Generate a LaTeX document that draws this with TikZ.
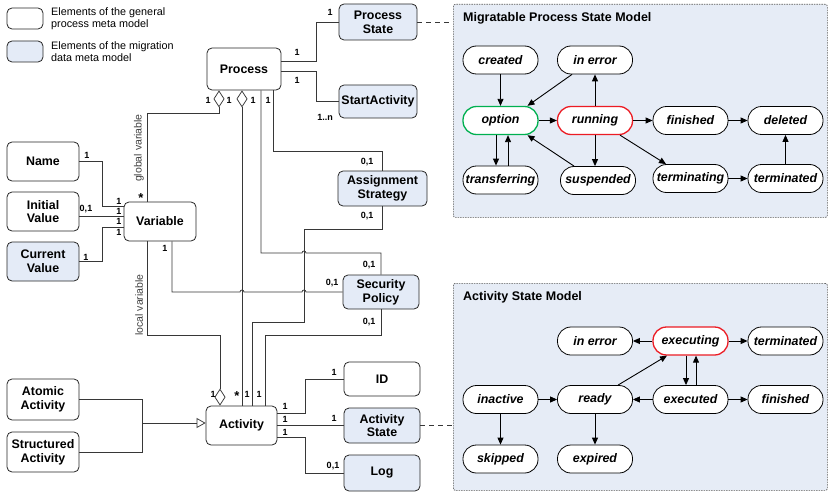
\documentclass[tikz,border=0pt]{standalone}
\usepackage{fontspec}
\setmainfont{Liberation Sans}
\usetikzlibrary{arrows.meta}
\definecolor{bfill}{RGB}{228,235,247}
\definecolor{sfill}{RGB}{230,236,246}
\definecolor{lcol}{RGB}{55,55,55}
\definecolor{gcol}{RGB}{0,176,80}
\definecolor{rcol}{RGB}{236,28,36}
\tikzset{agg/.tip={Diamond[open,length=17pt,width=11pt]}}
\begin{document}
\begin{tikzpicture}[x=1pt,y=-1pt,
  box/.style={draw=black!85,line width=0.8pt,rounded corners=5pt,fill=white,align=center,inner sep=0pt,font=\fontsize{12.4}{13.8}\selectfont\bfseries},
  mbox/.style={box,fill=bfill},
  st/.style={draw=black,line width=0.8pt,rounded corners=13.5pt,fill=white,minimum width=75pt,minimum height=28pt,inner sep=0pt,font=\fontsize{12.4}{13}\selectfont\bfseries\itshape},
  gst/.style={st,draw=gcol,line width=1.3pt},
  rst/.style={st,draw=rcol,line width=1.3pt},
  conn/.style={draw=lcol,line width=0.75pt},
  sarr/.style={draw=black,line width=0.9pt,-{Triangle[length=7pt,width=6pt]}},
  mult/.style={font=\fontsize{9}{9}\selectfont\bfseries,inner sep=0pt},
  star/.style={font=\fontsize{13}{13}\selectfont\bfseries,inner sep=0pt},
  smodel/.style={draw=black!65,dash pattern=on 1.5pt off 1pt,line width=0.7pt,fill=sfill,rounded corners=2pt,anchor=north west,inner sep=0pt},
  ttl/.style={font=\fontsize{12.5}{13}\selectfont\bfseries,anchor=west,inner sep=0pt},
  rlab/.style={font=\fontsize{10.5}{12}\selectfont,text=black!75,rotate=90,inner sep=0pt},
  leg/.style={font=\fontsize{10.8}{12}\selectfont,align=left,anchor=west,inner sep=0pt},
  dsh/.style={conn,dash pattern=on 5pt off 4pt}
]
\useasboundingbox (0,0) rectangle (829,492);

% legend
\node[box,minimum width=36pt,minimum height=21pt] (lg1) at (25,18.5) {};
\node[leg] (lt1) at (51,19) {Elements of the general\\process meta model};
\node[mbox,minimum width=36pt,minimum height=21pt] (lg2) at (25,51.5) {};
\node[leg] (lt2) at (51,52) {Elements of the migration\\data meta model};

% state model frames
\node[smodel,minimum width=374pt,minimum height=213pt] (pmodel) at (453,4) {};
\node[ttl] (pmt) at (463,18) {Migratable Process State Model};
\node[smodel,minimum width=374pt,minimum height=207pt] (amodel) at (453,283) {};
\node[ttl] (amt) at (463,297) {Activity State Model};

% meta model nodes
\node[box,minimum width=74pt,minimum height=42pt] (proc) at (244,69) {Process};
\node[mbox,minimum width=78pt,minimum height=36pt] (ps) at (378,22) {Process\\State};
\node[mbox,minimum width=78pt,minimum height=33pt] (sa) at (378,101.5) {StartActivity};
\node[mbox,minimum width=89pt,minimum height=35pt] (as) at (382.5,188.5) {Assignment\\Strategy};
\node[mbox,minimum width=76pt,minimum height=34pt] (sp) at (381,292) {Security\\Policy};
\node[box,minimum width=72pt,minimum height=39pt] (name) at (43,161.5) {Name};
\node[box,minimum width=72pt,minimum height=39pt] (init) at (43,211.5) {Initial\\Value};
\node[mbox,minimum width=72pt,minimum height=39pt] (cur) at (43,261.5) {Current\\Value};
\node[box,minimum width=72pt,minimum height=39pt] (var) at (160,221.5) {Variable};
\node[box,minimum width=72pt,minimum height=41pt] (atom) at (43,399.5) {Atomic\\Activity};
\node[box,minimum width=72pt,minimum height=40pt] (struct) at (43,452) {Structured\\Activity};
\node[box,minimum width=71pt,minimum height=39pt] (act) at (241.5,425.5) {Activity};
\node[box,minimum width=76pt,minimum height=34pt] (id) at (382,379) {ID};
\node[mbox,minimum width=76pt,minimum height=35pt] (ast) at (382,425.5) {Activity\\State};
\node[mbox,minimum width=76pt,minimum height=36pt] (log) at (382,473) {Log};

% connectors
\draw[conn] ([yshift=8pt]proc.east) -- (316,61) |- (ps.west);
\draw[conn] ([yshift=-2pt]proc.east) -- (316,71) |- (sa.west);
\draw[conn,agg-] ([xshift=-25pt]proc.south) -- (219,113) -| ([xshift=-13pt]var.north);
\draw[conn,agg-] ([xshift=-2pt]proc.south) -- ([xshift=0.5pt]act.north);
\draw[conn] ([xshift=17pt]proc.south) -- (261,253) -- (302,253) arc[start angle=180,end angle=0,radius=2pt] -- (381,253) -- (sp.north);
\draw[conn] ([xshift=29pt]proc.south) |- ([yshift=19pt]as.north) -- (as.north);
\draw[conn] (as.south) -- (382.5,229) -- (304,229) -- (304,322) -- (252,322) -- ([xshift=10.5pt]act.north);
\draw[conn] (sp.south) -- (381,335) -- (265,335) -- ([xshift=23.5pt]act.north);
\draw[conn] ([xshift=12pt]var.south) -- (172,292) -- (240,292) arc[start angle=180,end angle=0,radius=2pt] -- (302,292) arc[start angle=180,end angle=0,radius=2pt] -- (sp.west);
\draw[conn,-agg] ([xshift=-13pt]var.south) -- (147,335) -- (220,335) -- ([xshift=-21.5pt]act.north);
\draw[conn] (name.east) -- (102,161.5) |- ([yshift=15.5pt]var.west);
\draw[conn] ([yshift=-4.5pt]init.east) -- ([yshift=5.5pt]var.west);
\draw[conn] (cur.east) -- (102,261.5) |- ([yshift=-5.5pt]var.west);
\draw[conn] (atom.east) -- (142,399.5) -- (142,452) -- (struct.east);
\coordinate (gj) at (142,423);
\draw[conn,-{Triangle[open,length=9pt,width=10pt]}] (gj) -- ([yshift=2.5pt]act.west);
\draw[conn] ([yshift=12.5pt]act.east) -- (305,413) |- (id.west);
\draw[conn] (act.east) -- (ast.west);
\draw[conn] ([yshift=-11.5pt]act.east) -- (305,437) |- (log.west);
\draw[dsh] (ps.east) -- (ps.east -| pmodel.west);
\draw[dsh] (ast.east) -- (ast.east -| amodel.west);

% multiplicities
\node[mult] at (297,52) {1};
\node[mult] at (330,12) {1};
\node[mult] at (297,80) {1};
\node[mult] at (325,117) {1..n};
\node[mult] at (208,100) {1};
\node[mult] at (229,100) {1};
\node[mult] at (253,100) {1};
\node[mult] at (268,100) {1};
\node[star] at (141,198) {*};
\node[mult] at (119,201) {1};
\node[mult] at (119,211) {1};
\node[mult] at (119,221) {1};
\node[mult] at (119,232) {1};
\node[mult] at (87,155) {1};
\node[mult] at (86,209) {0,1};
\node[mult] at (86,257) {1};
\node[mult] at (165,248) {1};
\node[mult] at (367,162) {0,1};
\node[mult] at (367,216) {0,1};
\node[mult] at (369,265) {0,1};
\node[mult] at (332,283) {0,1};
\node[mult] at (369,322) {0,1};
\node[mult] at (213,394) {1};
\node[star] at (237,396) {*};
\node[mult] at (247,394) {1};
\node[mult] at (259,394) {1};
\node[mult] at (285,406) {1};
\node[mult] at (285,419) {1};
\node[mult] at (285,432) {1};
\node[mult] at (334,372) {1};
\node[mult] at (334,418) {1};
\node[mult] at (333,466) {0,1};
\node[rlab] at (139,148) {global variable};
\node[rlab] at (139,305) {local variable};

% process state model
\node[st] (created) at (500.5,60) {created};
\node[st] (perr) at (595,60) {in error};
\node[gst] (option) at (500.5,120.5) {option};
\node[rst] (running) at (595,120.5) {running};
\node[st] (pfin) at (690.5,120.5) {finished};
\node[st] (deleted) at (785.5,120.5) {deleted};
\node[st] (transf) at (500.5,180) {transferring};
\node[st] (susp) at (598,180.5) {suspended};
\node[st] (terming) at (690.5,178.5) {terminating};
\node[st] (pterm) at (785.5,178.5) {terminated};
\draw[sarr] (created) -- (option);
\draw[sarr] ([xshift=-23pt]perr.south) -- ([xshift=27pt]option.north);
\draw[sarr] (option) -- (running);
\draw[sarr] (running) -- (perr);
\draw[sarr] (running) -- (pfin);
\draw[sarr] (pfin) -- (deleted);
\draw[sarr] (running.south) -- (running.south |- susp.north);
\draw[sarr] ([xshift=-24pt]susp.north) -- ([xshift=27pt]option.south);
\draw[sarr] ([xshift=-4.5pt]option.south) -- ([xshift=-4.5pt]transf.north);
\draw[sarr] ([xshift=7.5pt]transf.north) -- ([xshift=7.5pt]option.south);
\draw[sarr] ([xshift=25pt]running.south) -- ([xshift=-24.5pt]terming.north);
\draw[sarr] (terming) -- (pterm);
\draw[sarr] (pterm) -- (deleted);

% activity state model
\node[st] (aerr) at (595,341) {in error};
\node[rst] (executing) at (690.5,341) {executing};
\node[st] (aterm) at (785.5,341) {terminated};
\node[st] (inactive) at (500.5,399.5) {inactive};
\node[st] (ready) at (595,399.5) {ready};
\node[st] (executed) at (690.5,399.5) {executed};
\node[st] (afin) at (785.5,399.5) {finished};
\node[st] (skipped) at (500.5,459) {skipped};
\node[st] (expired) at (595,459) {expired};
\draw[sarr] (executing) -- (aerr);
\draw[sarr] (executing) -- (aterm);
\draw[sarr] ([xshift=23pt]ready.north) -- ([xshift=-23.5pt]executing.south);
\draw[sarr] ([xshift=-4.5pt]executing.south) -- ([xshift=-4.5pt]executed.north);
\draw[sarr] ([xshift=5.5pt]executed.north) -- ([xshift=5.5pt]executing.south);
\draw[sarr] (inactive) -- (ready);
\draw[sarr] (executed) -- (ready);
\draw[sarr] (executed) -- (afin);
\draw[sarr] (inactive) -- (skipped);
\draw[sarr] (ready) -- (expired);
\end{tikzpicture}
\end{document}
